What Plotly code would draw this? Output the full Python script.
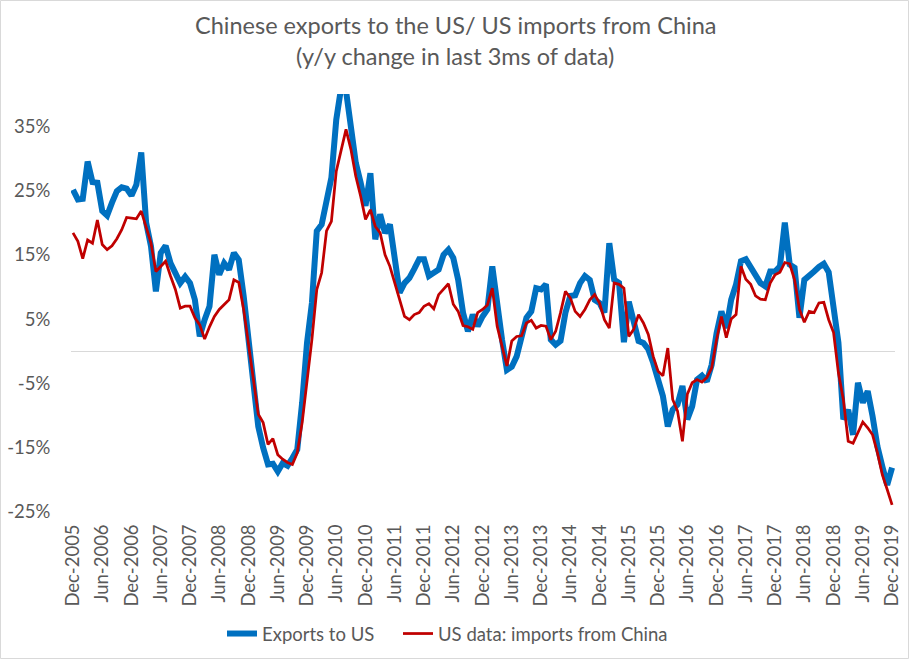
import pandas as pd
import plotly.graph_objects as go

# monthly categories, Dec-2005 .. Dec-2019
months = pd.date_range("2005-12-01", "2019-12-01", freq="MS").strftime("%b-%Y").tolist()

# y/y change in last 3 months of data, %
exports_to_us = [
    25.1, 23.6, 23.7, 29.5, 26.3, 26.2, 21.8, 21.1, 23.1, 24.9, 25.5, 25.3,
    24.2, 25.9, 30.9, 20.0, 16.3, 9.3, 15.3, 16.4, 13.7, 11.9, 10.6, 11.6,
    10.6, 8.0, 2.3, 4.9, 7.0, 15.0, 11.9, 13.7, 12.7, 15.3, 14.2, 8.6,
    1.3, -4.9, -11.7, -15.0, -17.6, -17.5, -18.7, -17.4, -17.8, -16.6, -15.3, -8.0,
    1.3, 7.5, 18.7, 19.7, 23.3, 27.0, 36.0, 41.0, 40.5, 35.0, 29.3, 26.2,
    22.6, 27.7, 17.4, 21.3, 18.4, 19.7, 14.3, 9.1, 10.6, 11.4, 12.8, 14.3,
    14.3, 11.7, 12.2, 12.7, 15.0, 15.8, 14.5, 11.1, 6.0, 3.1, 5.7, 3.9,
    5.4, 6.5, 13.2, 7.0, 1.8, -2.9, -2.4, -0.8, 2.3, 5.2, 6.2, 9.8,
    9.6, 10.4, 1.8, 1.0, 1.6, 6.0, 8.6, 8.7, 10.6, 11.7, 11.1, 8.0,
    7.5, 6.0, 16.8, 11.1, 10.6, 1.4, 7.7, 4.5, 1.6, 1.3, 0.3, -1.8,
    -4.1, -7.0, -11.7, -9.1, -8.3, -5.4, -10.6, -8.6, -4.4, -3.8, -4.7, -2.1,
    2.8, 6.2, 3.6, 8.0, 10.4, 14.0, 14.3, 13.0, 11.7, 10.6, 10.1, 12.4,
    12.4, 13.2, 20.0, 13.5, 13.0, 5.2, 11.1, 11.9, 12.4, 13.1, 13.6, 12.3,
    7.0, 1.3, -10.6, -9.1, -13.0, -4.9, -8.0, -6.2, -10.1, -14.8, -17.9, -20.8,
    -18.1,
]

us_imports_from_china = [
    18.4, 17.1, 14.4, 17.3, 16.8, 20.4, 16.6, 15.8, 16.4, 17.5, 18.9, 20.8,
    20.7, 20.6, 21.8, 19.4, 16.8, 12.4, 13.2, 14.0, 11.7, 9.6, 6.7, 7.0,
    7.0, 5.2, 4.1, 1.9, 3.8, 5.4, 6.5, 7.3, 8.0, 11.1, 10.7, 6.5,
    1.3, -3.9, -9.8, -11.1, -14.5, -13.6, -16.1, -16.8, -17.3, -17.6, -15.8, -11.1,
    -4.4, 1.8, 9.6, 12.2, 18.7, 20.2, 28.0, 31.4, 34.5, 31.4, 27.2, 24.1,
    20.5, 22.0, 19.4, 18.4, 15.0, 13.2, 10.6, 8.0, 5.4, 4.9, 5.7, 6.0,
    7.0, 7.4, 6.6, 8.8, 9.6, 10.5, 7.3, 6.2, 4.0, 3.8, 3.4, 6.0,
    6.5, 7.2, 9.8, 3.9, 0.8, -2.3, 1.6, 2.3, 2.4, 4.4, 4.8, 3.6,
    4.0, 3.9, 1.8, 3.1, 6.0, 9.3, 8.3, 6.2, 5.4, 6.5, 8.0, 8.8,
    7.5, 4.9, 3.6, 10.6, 10.4, 9.8, 2.3, 3.4, 5.7, 4.4, 2.6, -0.8,
    -3.1, -3.8, 0.5, -7.5, -9.3, -14.0, -6.7, -4.9, -4.4, -4.8, -4.1, -2.6,
    1.8, 5.4, 2.1, 5.0, 5.7, 13.2, 11.2, 10.4, 8.6, 8.1, 8.0, 10.6,
    11.9, 12.3, 13.8, 13.6, 11.1, 6.5, 4.5, 6.2, 6.0, 7.5, 7.6, 4.9,
    2.9, -3.4, -7.5, -14.0, -14.3, -12.7, -11.0, -11.9, -13.0, -15.8, -19.2, -21.5,
    -23.9,
]

x_ticks = months[::6]
y_ticks = [-25, -15, -5, 5, 15, 25, 35]
y_labels = ["-25%", "-15%", "-5%", "5%", "15%", "25%", "35%"]
title_lines = ["Chinese exports to the US/ US imports from China",
               "(y/y change in last 3ms of data)"]

grey = "#595959"
font = "Lato"
fs = 18.5

fig = go.Figure()
fig.add_trace(go.Scatter(x=months, y=exports_to_us, mode="lines", name="Exports to US",
                         line=dict(color="#0070c0", width=6), legend="legend"))
fig.add_trace(go.Scatter(x=months, y=us_imports_from_china, mode="lines",
                         name="US data: imports from China",
                         line=dict(color="#c00000", width=2.75), legend="legend2"))

L, R, T, B = 71, 15, 94, 149
W, H = 910, 661
pw, ph = W - L - R, H - T - B


def py(y):
    # pixel row -> paper y
    return (H - B - y) / ph


def px(x):
    return (x - L) / pw


annotations = []
for txt, yy in zip(title_lines, [25, 56]):
    annotations.append(dict(text=txt, xref="paper", yref="paper", x=px(455), y=py(yy),
                            xanchor="center", yanchor="middle", showarrow=False,
                            font=dict(family=font, size=23.5, color=grey)))

leg = dict(orientation="h", xanchor="left", yanchor="middle", y=py(634),
           font=dict(family=font, size=fs, color=grey), bgcolor="rgba(0,0,0,0)")

fig.update_layout(
    width=W, height=H,
    margin=dict(l=L, r=R, t=T, b=B, autoexpand=False),
    paper_bgcolor="white", plot_bgcolor="white",
    font=dict(family=font, color=grey, size=fs),
    annotations=annotations,
    showlegend=True,
    legend=dict(leg, x=px(261 - 39)),
    legend2=dict(leg, x=px(438 - 40)),
    xaxis=dict(type="category", range=[-0.41, 168.6], tickmode="array", tickvals=x_ticks,
               ticktext=x_ticks, tickangle=-90, showgrid=False, zeroline=False,
               showline=False, ticks="outside", ticklen=4, tickcolor="rgba(0,0,0,0)",
               automargin=False, tickfont=dict(size=fs, color=grey)),
    yaxis=dict(range=[-25, 40], tickmode="array", tickvals=y_ticks, ticktext=y_labels,
               showgrid=False, zeroline=True, zerolinecolor="#d9d9d9", zerolinewidth=1,
               showline=False, ticks="outside", ticklen=16, tickcolor="rgba(0,0,0,0)",
               automargin=False, tickfont=dict(size=fs, color=grey)),
    shapes=[dict(type="rect", xref="paper", yref="paper",
                 x0=px(0.5), x1=px(908.5), y0=py(658.5), y1=py(0.5),
                 line=dict(color="#d9d9d9", width=1), fillcolor="rgba(0,0,0,0)", layer="below")],
)

# drop the page's default 8px body margin so the figure sits at the window corner
fig.write_html("out.html", config={"displayModeBar": False},
               post_script="document.body.style.margin='0';")
